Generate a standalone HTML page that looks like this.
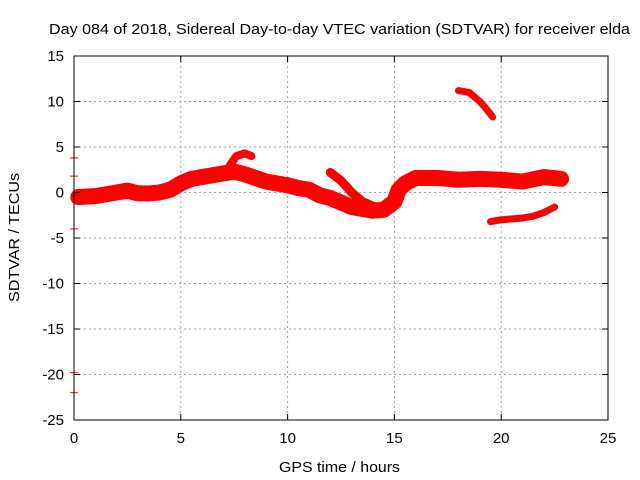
<!DOCTYPE html>
<html><head><meta charset="utf-8"><style>
body{margin:0;background:#fff}
svg{display:block}
text{font-family:"Liberation Sans",sans-serif;font-size:15px;fill:#000}
</style></head><body>
<svg id="chart" width="640" height="480">
<rect width="640" height="480" fill="#fff"/>
<g id="grid"></g>
<g id="series"></g>
<rect x="74" y="56" width="534" height="364" fill="none" stroke="#000" stroke-width="1"/>
<g id="axes"></g>
<text x="49" y="34" textLength="581" lengthAdjust="spacingAndGlyphs">Day 084 of 2018, Sidereal Day-to-day VTEC variation (SDTVAR) for receiver elda</text>
<text x="279" y="472" textLength="121" lengthAdjust="spacingAndGlyphs">GPS time / hours</text>
<text x="19" y="302" textLength="129" lengthAdjust="spacingAndGlyphs" transform="rotate(-90 19 302)">SDTVAR / TECUs</text>
</svg>
<script>
const xTicks=[0,5,10,15,20,25];
const yTicks=[15,10,5,0,-5,-10,-15,-20,-25];
const mainT=[0.2,1,2,2.5,3,3.5,4,4.5,5,5.5,6,7,7.5,8,9,10,10.5,11,11.5,12,13,14,14.5,15,15.2,15.5,16,17,18,19,20,21,22,22.8];
const mainV=[-0.5,-0.4,0,0.2,-0.1,-0.1,0,0.3,1,1.5,1.7,2.1,2.3,2.0,1.2,0.8,0.5,0.3,-0.3,-0.6,-1.6,-2.0,-1.9,-1.0,0.3,1.0,1.6,1.6,1.4,1.5,1.4,1.2,1.7,1.5];
const branchAT=[7.3,7.6,8.0,8.3];
const branchAV=[3.0,4.0,4.3,4.0];
const branchBT=[12,12.5,13,13.5,14,14.5];
const branchBV=[2.2,1.3,0,-1.0,-1.5,-1.8];
const arcT=[18,18.5,19,19.3,19.6];
const arcV=[11.2,11.0,10.0,9.2,8.3];
const lowT=[19.5,20,21,21.5,22,22.5];
const lowV=[-3.2,-3.0,-2.8,-2.6,-2.2,-1.6];
const edgeV=[3.8,1.8,-4.0,-19.8,-22];
const X=t=>74+t*(534/25);
const Y=v=>56+(15-v)*(364/40);
const NS='http://www.w3.org/2000/svg';
function mk(tag,attrs,parent){const e=document.createElementNS(NS,tag);for(const k in attrs)e.setAttribute(k,attrs[k]);parent.appendChild(e);return e;}
const grid=document.getElementById('grid'),axes=document.getElementById('axes'),ser=document.getElementById('series');
xTicks.forEach(t=>{
 if(t>0&&t<25){const l=mk('line',{x1:X(t),x2:X(t),y1:56,y2:420,stroke:'#a0a0a0','stroke-dasharray':'2,3'},grid);
 
 }
 mk('line',{x1:X(t),x2:X(t),y1:420,y2:414,stroke:'#000'},axes);
 mk('line',{x1:X(t),x2:X(t),y1:56,y2:62,stroke:'#000'},axes);
 const tx=mk('text',{x:X(t),y:443,'text-anchor':'middle'},axes);tx.textContent=t;
 
 
});
yTicks.forEach(v=>{
 if(v<15&&v>-25){const l=mk('line',{x1:74,x2:608,y1:Y(v),y2:Y(v),stroke:'#a0a0a0','stroke-dasharray':'2,3'},grid);
 
 }
 mk('line',{x1:74,x2:80,y1:Y(v),y2:Y(v),stroke:'#000'},axes);
 mk('line',{x1:608,x2:602,y1:Y(v),y2:Y(v),stroke:'#000'},axes);
 const tx=mk('text',{x:64,y:Y(v)+5,'text-anchor':'end'},axes);tx.textContent=v;
 
 
});
function band(ts,vs,w,name){
 const pts=ts.map((t,i)=>X(t)+','+Y(vs[i])).join(' ');
 const p=mk('polyline',{points:pts,fill:'none',stroke:'#ff0000','stroke-width':w,'stroke-linejoin':'round','stroke-linecap':'round'},ser);
 
 
}
band(mainT,mainV,16,'main-band');
band(branchAT,branchAV,8,'branch-a');
band(branchBT,branchBV,9,'branch-b');
band(arcT,arcV,7,'upper-arc');
band(lowT,lowV,7,'lower-track');
edgeV.forEach(v=>{
 const l=mk('line',{x1:70,x2:78,y1:Y(v),y2:Y(v),stroke:'#ff0000','stroke-width':1},ser);
 
 
});
</script>
</body></html>
